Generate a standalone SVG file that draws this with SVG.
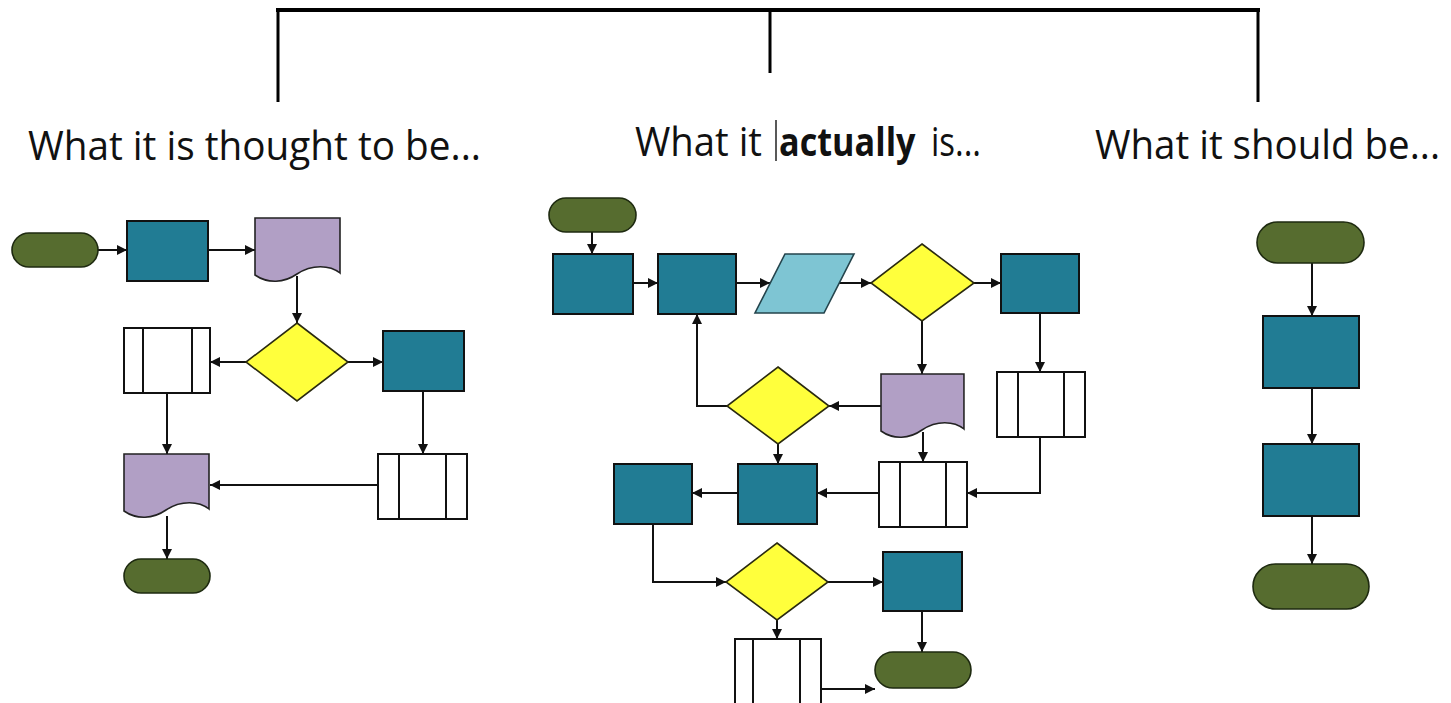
<svg xmlns="http://www.w3.org/2000/svg" width="1451" height="703" viewBox="0 0 1451 703">
  <style>
    .term { fill: #566C2F; stroke: #1E2A10; stroke-width: 1.6; }
    .proc { fill: #217C94; stroke: #111; stroke-width: 2; }
    .doc { fill: #B19FC5; stroke: #222; stroke-width: 1.6; }
    .dec { fill: #FFFF3C; stroke: #2A2A10; stroke-width: 1.6; }
    .io { fill: #7EC5D3; stroke: #24444C; stroke-width: 1.6; }
    .pre { fill: #FFFFFF; stroke: #111; stroke-width: 2; }
    .conn { fill: none; stroke: #111; stroke-width: 2; marker-end: url(#arrow); }
    .bracket { fill: none; stroke: #000; stroke-linecap: butt; }
    .title { font-family: "Open Sans", "Noto Sans", sans-serif; font-size: 40px; fill: #111; }
    .bold { font-weight: bold; }
  </style>
  <defs>
    <marker id="arrow" viewBox="0 0 10 10" refX="10" refY="5" markerWidth="11" markerHeight="10" markerUnits="userSpaceOnUse" orient="auto">
      <path d="M0,0 L10,5 L0,10 z" fill="#111"/>
    </marker>
    <!-- document shape: flat top, wavy bottom (85 wide) -->
    <path id="docShape" d="M0,0 H85 V55 C75,47 57,46 42,56 C29,65 13,66 0,57 Z"/>
  </defs>

  <rect width="1451" height="703" fill="#FFFFFF"/>

  <!-- bracket across the three headings -->
  <g id="bracket">
    <path class="bracket" stroke-width="4" d="M276,10 H1260"/>
    <path class="bracket" stroke-width="3" d="M278,10 V102 M770,10 V73 M1258,10 V102"/>
  </g>

  <!-- headings -->
  <g id="headings">
    <text class="title" x="28" y="160" textLength="453" lengthAdjust="spacingAndGlyphs">What it is thought to be...</text>
    <text class="title" x="635" y="156" textLength="127" lengthAdjust="spacingAndGlyphs">What it</text>
    <text class="title bold" x="0" y="0" transform="translate(779,156) scale(0.87,1)" textLength="157" lengthAdjust="spacingAndGlyphs">actually</text>
    <text class="title" x="931" y="156" textLength="50" lengthAdjust="spacingAndGlyphs">is...</text>
    <line x1="776" y1="120" x2="776" y2="161" stroke="#222" stroke-width="1.5"/>
    <text class="title" x="1095" y="159" textLength="345" lengthAdjust="spacingAndGlyphs">What it should be...</text>
  </g>

  <!-- connectors -->
  <g id="connectors">
    <!-- thought-to-be flow -->
    <path class="conn" d="M98,250 H127"/>
    <path class="conn" d="M208,250 H255"/>
    <path class="conn" d="M297,276 V323"/>
    <path class="conn" d="M246,362 H210"/>
    <path class="conn" d="M348,362 H383"/>
    <path class="conn" d="M167,393 V454"/>
    <path class="conn" d="M423,391 V454"/>
    <path class="conn" d="M378,485 H210"/>
    <path class="conn" d="M167,516 V559"/>
    <!-- actual flow -->
    <path class="conn" d="M592,232 V254"/>
    <path class="conn" d="M633,283 H658"/>
    <path class="conn" d="M736,283 H770"/>
    <path class="conn" d="M839,283 H871"/>
    <path class="conn" d="M974,283 H1001"/>
    <path class="conn" d="M922,321 V374"/>
    <path class="conn" d="M1040,313 V372"/>
    <path class="conn" d="M881,406 H829"/>
    <path class="conn" d="M727,406 H697 V314"/>
    <path class="conn" d="M778,444 V464"/>
    <path class="conn" d="M923,432 V462"/>
    <path class="conn" d="M1040,437 V493 H967"/>
    <path class="conn" d="M879,493 H817"/>
    <path class="conn" d="M738,493 H692"/>
    <path class="conn" d="M653,524 V582 H726"/>
    <path class="conn" d="M828,582 H883"/>
    <path class="conn" d="M922,611 V652"/>
    <path class="conn" d="M777,620 V639"/>
    <path class="conn" d="M821,689 H875"/>
    <!-- ideal flow -->
    <path class="conn" d="M1312,263 V316"/>
    <path class="conn" d="M1312,388 V444"/>
    <path class="conn" d="M1312,516 V564"/>
  </g>

  <!-- thought-to-be flow nodes -->
  <g id="t-start"><rect class="term" x="12" y="233" width="86" height="34" rx="17"/></g>
  <g id="t-proc1"><rect class="proc" x="127" y="221" width="81" height="60"/></g>
  <g id="t-doc1"><use href="#docShape" class="doc" x="255" y="218"/></g>
  <g id="t-dec"><polygon class="dec" points="297,323 348,362 297,401 246,362"/></g>
  <g id="t-pre1"><rect class="pre" x="124" y="328" width="86" height="65"/><path class="pre" d="M143,328 V393 M192,328 V393"/></g>
  <g id="t-proc2"><rect class="proc" x="383" y="331" width="81" height="60"/></g>
  <g id="t-doc2"><use href="#docShape" class="doc" x="124" y="454"/></g>
  <g id="t-pre2"><rect class="pre" x="378" y="454" width="89" height="65"/><path class="pre" d="M399,454 V519 M446,454 V519"/></g>
  <g id="t-end"><rect class="term" x="124" y="559" width="86" height="34" rx="17"/></g>

  <!-- actual flow nodes -->
  <g id="a-start"><rect class="term" x="549" y="198" width="87" height="34" rx="17"/></g>
  <g id="a-proc1"><rect class="proc" x="553" y="254" width="80" height="60"/></g>
  <g id="a-proc2"><rect class="proc" x="658" y="254" width="78" height="60"/></g>
  <g id="a-io"><polygon class="io" points="785,254 854,254 824,313 755,313"/></g>
  <g id="a-dec1"><polygon class="dec" points="922,244 974,283 922,321 871,283"/></g>
  <g id="a-proc3"><rect class="proc" x="1001" y="254" width="78" height="59"/></g>
  <g id="a-dec2"><polygon class="dec" points="778,367 829,406 778,444 727,406"/></g>
  <g id="a-doc"><use href="#docShape" class="doc" transform="translate(881,374) scale(0.976,1)"/></g>
  <g id="a-pre1"><rect class="pre" x="997" y="372" width="88" height="65"/><path class="pre" d="M1018,372 V437 M1064,372 V437"/></g>
  <g id="a-proc4"><rect class="proc" x="614" y="464" width="78" height="60"/></g>
  <g id="a-proc5"><rect class="proc" x="738" y="464" width="79" height="60"/></g>
  <g id="a-pre2"><rect class="pre" x="879" y="462" width="88" height="65"/><path class="pre" d="M900,462 V527 M946,462 V527"/></g>
  <g id="a-dec3"><polygon class="dec" points="777,543 828,582 777,620 726,582"/></g>
  <g id="a-proc6"><rect class="proc" x="883" y="552" width="79" height="59"/></g>
  <g id="a-pre3"><rect class="pre" x="735" y="639" width="86" height="67"/><path class="pre" d="M753,639 V706 M800,639 V706"/></g>
  <g id="a-end"><rect class="term" x="875" y="652" width="96" height="36" rx="18"/></g>

  <!-- ideal flow nodes -->
  <g id="s-start"><rect class="term" x="1257" y="222" width="107" height="41" rx="20.5"/></g>
  <g id="s-proc1"><rect class="proc" x="1263" y="316" width="96" height="72"/></g>
  <g id="s-proc2"><rect class="proc" x="1263" y="444" width="96" height="72"/></g>
  <g id="s-end"><rect class="term" x="1253" y="564" width="116" height="45" rx="22.5"/></g>
</svg>
